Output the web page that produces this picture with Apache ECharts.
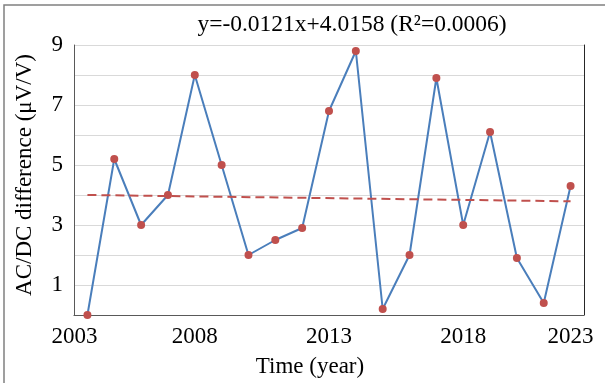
<!DOCTYPE html>
<html>
<head>
<meta charset="utf-8">
<script src="https://cdn.jsdelivr.net/npm/echarts@6/dist/echarts.min.js"></script>
<style>
html,body{margin:0;padding:0;background:#fff;}
#chart{width:605px;height:383px;}
</style>
</head>
<body>
<div id="chart"></div>
<script>
// Measurement index (x used by the regression), 19 points
const pointIndex = ['1','2','3','4','5','6','7','8','9','10','11','12','13','14','15','16','17','18','19'];
// AC/DC difference values (µV/V)
const acdcValues = [0, 5.2, 3.0, 4.0, 8.0, 5.0, 2.0, 2.5, 2.9, 6.8, 8.8, 0.2, 2.0, 7.9, 3.0, 6.1, 1.9, 0.4, 4.3];
// Linear trend end points (first and last point)
const trendX = [0, 18];
const trendY = [4.00, 3.79];
// Year tick labels and the category positions where they are shown
const tickLabelIndex = [0, 4, 9, 14, 18];
const tickLabelText = ['2003', '2008', '2013', '2018', '2023'];
const titleText = 'y=-0.0121x+4.0158 (R\u00B2=0.0006)';
const xName = 'Time (year)';
const yName = 'AC/DC difference (\u03BCV/V)';

const FONT = '"Liberation Serif", "Times New Roman", serif';
const FS = 23;
const chart = echarts.init(document.getElementById('chart'), null, {renderer: 'canvas'});

const option = {
  animation: false,
  backgroundColor: '#fff',
  textStyle: {fontFamily: FONT},
  grid: {left: 74, right: 21, top: 45, bottom: 67, containLabel: false},
  graphic: [
    {type: 'rect', shape: {x: 4, y: 5, width: 800, height: 600},
     style: {fill: 'none', stroke: '#808080', lineWidth: 1.5}, silent: true},
    {type: 'text', x: 352, y: 25,
     style: {text: titleText, font: '23.5px ' + FONT, fill: '#000',
             textAlign: 'center', textVerticalAlign: 'middle'}}
  ],
  xAxis: [
    {
      type: 'category', data: pointIndex, boundaryGap: true,
      axisLine: {show: true, lineStyle: {color: '#d9d9d9', width: 1}},
      axisTick: {show: false},
      axisLabel: {
        interval: function (idx) { return tickLabelIndex.indexOf(idx) >= 0; },
        formatter: function (v, idx) {
          const k = tickLabelIndex.indexOf(idx);
          if (k < 0) return '';
          return k === 0 ? '{first|' + tickLabelText[k] + '}' : tickLabelText[k];
        },
        rich: {first: {fontSize: FS, fontFamily: FONT, color: '#000', padding: [0, 26, 0, 0]}},
        fontSize: FS, fontFamily: FONT, color: '#000', margin: 10, hideOverlap: false
      },
      name: xName, nameLocation: 'middle', nameGap: 40,
      nameTextStyle: {fontSize: FS, fontFamily: FONT, color: '#000', padding: [0, 38, 0, 0]},
      splitLine: {show: false}
    },
    {
      type: 'category', data: pointIndex, position: 'top', boundaryGap: true,
      axisLine: {show: true, lineStyle: {color: '#595959', width: 1}},
      axisTick: {show: false}, axisLabel: {show: false}, splitLine: {show: false}
    }
  ],
  yAxis: [
    {
      type: 'value', min: 0, max: 9, interval: 1,
      axisLine: {show: true, lineStyle: {color: '#595959', width: 1}},
      axisTick: {show: false},
      axisLabel: {
        formatter: function (v) { return (v % 2 === 1) ? String(v) : ''; },
        fontSize: FS, fontFamily: FONT, color: '#000', margin: 11
      },
      splitLine: {show: true, lineStyle: {color: '#d9d9d9', width: 1}},
      name: yName, nameLocation: 'middle', nameGap: 38, nameRotate: 90,
      nameTextStyle: {fontSize: FS, fontFamily: FONT, color: '#000', padding: [0, 0, 0, 10]}
    },
    {
      type: 'value', min: 0, max: 9, interval: 1, position: 'right',
      axisLine: {show: true, lineStyle: {color: '#262626', width: 1}},
      axisTick: {show: false}, axisLabel: {show: false}, splitLine: {show: false}
    }
  ],
  series: [
    {
      type: 'line', xAxisIndex: 0, yAxisIndex: 0,
      data: acdcValues,
      symbol: 'circle', symbolSize: 8,
      lineStyle: {color: '#4a7ebb', width: 2},
      itemStyle: {color: '#c0504d'},
      z: 3
    },
    {
      type: 'line', xAxisIndex: 0, yAxisIndex: 0,
      data: trendX.map(function (x, i) { return [x, trendY[i]]; }),
      symbol: 'none',
      lineStyle: {color: '#c0504d', width: 2, type: [9, 5]},
      z: 4
    }
  ]
};
chart.setOption(option);
</script>
</body>
</html>
